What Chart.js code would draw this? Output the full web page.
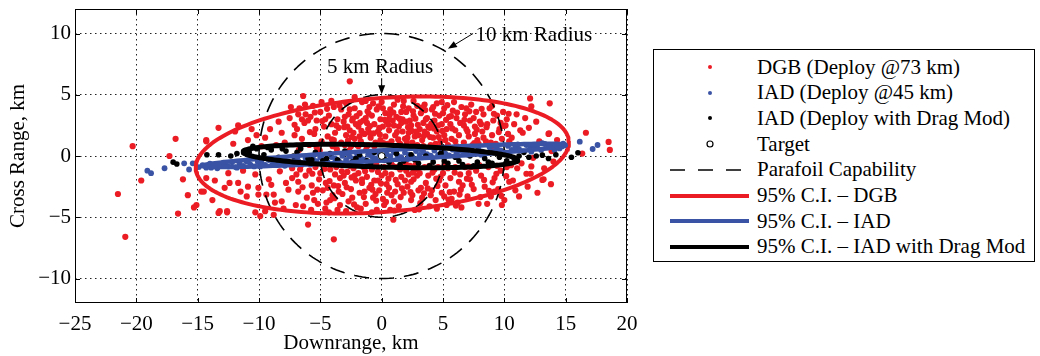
<!DOCTYPE html>
<html>
<head>
<meta charset="utf-8">
<script src="https://cdn.jsdelivr.net/npm/chart.js@4/dist/chart.umd.min.js"></script>
<style>
  body { margin: 0; background: #fff; width: 1040px; height: 356px; overflow: hidden;
         font-family: 'Liberation Serif', 'Times New Roman', serif; }
  #wrap { position: absolute; left: 0; top: 0; width: 640px; height: 356px; }
  #legend { position: absolute; left: 653px; top: 49px; width: 382px; height: 213px;
            border: 1px solid #000; box-sizing: border-box; background: #fff; }
  .row { position: absolute; left: 0; height: 26px; display: flex; align-items: center;
         font-size: 21px; color: #000; white-space: nowrap; }
  .row svg { width: 96px; height: 26px; margin-right: 7px; flex: none; }
</style>
</head>
<body>
<div id="wrap"><canvas id="chart" width="640" height="356"></canvas></div>
<div id="legend"></div>
<script>
// --- datos (km) ---
const dgbPoints = [
  [-21.5,-3.1],[-20.9,-6.6],[-20.3,0.8],[-19.6,-2.0],[-17.3,0.0],[-16.8,1.4],[-16.6,-4.7],[-16.2,-1.9],
  [-15.8,-3.2],[-15.3,-4.2],[-14.7,-2.9],[-14.3,1.3],[-13.3,2.3],[-13.2,-4.5],[-12.6,-4.6],[-11.7,2.5],
  [-10.3,-4.6],[-6.4,4.9],[-3.9,-6.8],[-6.0,-5.6],[-2.6,6.1],[-2.2,4.8],[0.95,-5.2],
  [-11.95,2.0],[-14.3,1.2],[-10.9,1.3],[-10.2,1.7],[-9.5,1.5],[-9.8,0.8],[-8.4,2.8],[-8.15,1.9],
  [-7.9,1.1],[-7.1,1.7],[-7.1,2.55],[-6.5,3.0],[-6.8,3.4],[-14.3,-1.8],[-14.5,-2.9],[-12.5,-1.4],
  [-12.4,-2.2],[-12.8,-2.6],[-11.7,-2.2],[-11.5,-2.9],[-10.9,-2.5],[-11.0,-3.3],[-10.05,-2.6],[-10.05,-3.15],
  [-9.4,-3.15],[-8.8,-3.15],[-8.7,-3.8],[-9.5,-4.5],[-8.15,-3.7],[-7.6,-2.75],[-7.3,-1.8],[-6.8,-2.1],
  [-6.65,-1.1],[-7.3,-1.0],[-8.3,-1.25],[-9.0,-2.35],[-10.3,-1.5],[-13.3,-4.65],[-12.6,-4.5],[-15.1,-4.0],
  [-9.9,-4.9],[-8.8,-4.8],
  [-6.9,2.2],[-6.7,3.9],[-6.5,1.4],[-6.3,2.7],[-6.2,-1.6],[-6.1,-3.4],[-5.9,0.9],[-5.8,3.2],
  [-5.7,-2.4],[-5.6,4.1],[-5.5,1.8],[-5.4,-0.9],[-5.3,2.9],[-5.2,-3.9],[-5.1,-1.9],[-5.0,3.6],
  [-4.9,1.2],[-4.8,-2.8],[-4.7,2.4],[-4.6,-4.3],[-6.8,-2.9],[-6.6,-0.8],[-6.4,-4.1],[-6.0,2.9],
  [-5.9,-1.2],[-5.6,-3.0],[-5.3,0.7],[-5.0,-1.4],[-4.9,4.4],[-4.6,3.0],[-6.2,3.4],[-5.4,2.2],
  [-6.95,-1.5],[-5.75,-4.4],[-4.55,-2.2],
  [-4.4,1.6],[-4.3,3.3],[-4.2,-1.1],[-4.2,-3.6],[-4.1,2.6],[-4.0,0.8],[-3.9,4.0],[-3.9,-2.4],
  [-3.8,1.9],[-3.7,-0.9],[-3.6,3.0],[-3.6,-4.4],[-3.5,2.3],[-3.4,-1.8],[-3.3,1.1],[-3.3,3.8],
  [-3.2,-3.1],[-3.1,2.8],[-3.0,0.9],[-3.0,-2.2],[-2.9,1.7],[-2.9,4.3],[-2.8,-1.3],[-2.7,3.4],
  [-2.7,-3.7],[-2.6,2.1],[-2.5,0.8],[-2.5,-2.7],[-2.4,2.9],[-2.3,-1.0],[-2.2,3.9],[-2.2,1.4],
  [-2.1,-2.0],[-2.0,-4.2],[-4.4,-2.6],[-4.0,-3.2],[-3.8,-1.5],[-3.4,-4.0],[-3.2,-0.7],[-3.0,3.2],
  [-2.8,2.4],[-2.6,-0.8],[-2.4,-3.4],[-2.3,1.9],[-2.1,2.6],[-4.1,4.5],[-3.7,2.5],[-3.5,-2.9],
  [-3.1,-1.6],[-2.6,3.8],[-2.2,-1.6],[-4.3,-4.6],[-2.9,-4.5],[-2.0,0.9],[-3.9,1.3],
  [-1.9,2.4],[-1.9,-1.4],[-1.8,3.5],[-1.8,-3.0],[-1.7,1.2],[-1.6,4.4],[-1.6,-2.2],[-1.5,2.9],
  [-1.5,-0.9],[-1.4,1.8],[-1.3,-3.9],[-1.3,3.1],[-1.2,-1.7],[-1.1,2.2],[-1.1,0.9],[-1.0,-2.6],
  [-1.0,4.0],[-0.9,1.5],[-0.8,-1.1],[-0.8,3.3],[-0.7,-3.4],[-0.6,2.6],[-0.6,-2.0],[-0.5,1.1],
  [-0.4,3.8],[-0.4,-4.4],[-0.3,2.0],[-0.3,-1.3],[-0.2,-2.8],[-0.1,3.0],[-0.1,1.3],[0.0,-1.6],
  [0.0,4.4],[0.1,2.4],[0.1,-3.5],[0.2,-0.9],[0.3,3.5],[0.3,1.6],[0.4,-2.3],[0.4,2.8],
  [-1.7,-4.3],[-1.4,-2.9],[-1.2,2.7],[-0.9,-0.8],[-0.7,4.3],[-0.5,-3.1],[-0.2,2.3],[0.2,-4.0],
  [-1.9,0.8],[-1.0,1.9],[-0.3,-2.0],[0.5,1.0],[-1.6,-1.9],[-0.8,-4.6],[0.3,-1.4],[-1.3,4.5],
  [-0.6,0.8],[0.1,3.9],[-1.8,1.6],[0.45,-3.0],
  [0.6,2.1],[0.6,-2.6],[0.7,3.8],[0.8,1.2],[0.8,-1.5],[0.9,2.9],[1.0,-3.7],[1.0,4.2],
  [1.1,1.7],[1.2,-0.9],[1.2,3.2],[1.3,-2.3],[1.4,2.4],[1.4,-4.1],[1.5,1.0],[1.6,3.6],
  [1.6,-1.7],[1.7,2.0],[1.8,-3.0],[1.8,4.5],[1.9,1.4],[2.0,-1.2],[2.0,2.8],[2.1,-2.5],
  [2.2,3.9],[2.2,1.9],[2.3,-0.8],[2.4,-3.6],[2.4,2.5],[2.5,1.1],[2.6,3.3],[2.6,-1.9],
  [2.7,-4.4],[2.8,2.0],[2.8,-1.1],[2.9,4.1],[2.9,0.9],[3.0,-2.8],[0.7,-4.4],[0.9,-0.8],
  [1.1,-2.9],[1.3,4.6],[1.5,-1.1],[1.7,3.0],[1.9,-2.0],[2.1,1.5],[2.3,2.9],[2.5,-3.2],
  [2.7,1.6],[0.6,3.0],[1.0,2.5],[1.4,0.9],[1.8,-0.9],[2.2,-1.5],[2.6,4.5],[2.9,-1.6],
  [0.8,-3.2],[1.6,2.7],[2.0,3.6],[2.4,-2.1],
  [3.1,2.2],[3.1,-1.4],[3.2,3.5],[3.3,-3.4],[3.3,1.3],[3.4,2.7],[3.5,-0.9],[3.5,4.2],
  [3.6,-2.2],[3.7,1.8],[3.7,3.1],[3.8,-1.6],[3.9,-4.1],[3.9,2.3],[4.0,0.9],[4.1,3.8],
  [4.1,-2.8],[4.2,1.5],[4.3,-1.1],[4.3,2.9],[4.4,-3.6],[4.5,2.0],[4.5,4.3],[4.6,-0.9],
  [4.7,3.3],[4.7,-2.0],[4.8,1.2],[4.9,2.6],[4.9,-3.0],[5.0,-1.4],[5.1,3.9],[5.1,1.7],
  [5.2,-2.4],[5.3,2.2],[5.3,-4.0],[5.4,0.9],[5.5,3.2],[3.2,-2.6],[3.4,0.8],[3.6,3.0],
  [3.8,2.4],[4.0,-3.2],[4.2,4.0],[4.4,1.0],[4.6,2.5],[4.8,-1.7],[5.0,3.5],[5.2,1.3],
  [5.4,-1.0],[3.0,1.7],[3.9,-0.8],[4.5,-4.3],[5.1,-3.3],[3.5,2.0],[4.9,4.4],
  [5.6,2.6],[5.6,-1.8],[5.7,1.4],[5.8,3.7],[5.9,-2.9],[6.0,2.1],[6.0,-0.9],[6.1,3.1],
  [6.2,-3.8],[6.3,1.7],[6.4,2.7],[6.4,-1.5],[6.5,4.0],[6.6,-2.4],[6.7,1.1],[6.8,3.4],
  [6.8,-0.9],[6.9,2.2],[7.0,-3.3],[7.1,1.6],[7.2,2.9],[7.2,-1.9],[7.3,4.2],[7.4,0.9],
  [7.5,-2.7],[7.6,2.4],[7.7,3.6],[7.7,-1.2],[7.8,1.3],[7.9,-3.9],[8.0,2.8],[5.7,-3.5],
  [6.1,0.8],[6.5,-4.2],[6.9,3.9],[7.3,-0.9],[7.6,1.8],[5.9,4.4],[6.3,-2.1],[6.7,2.5],
  [7.1,-1.4],[7.5,3.1],[7.9,1.0],[6.0,1.2],[7.0,2.0],
  [8.1,-1.6],[8.2,2.0],[8.3,3.4],[8.4,-2.5],[8.5,1.2],[8.6,2.6],[8.7,-0.9],[8.8,3.9],
  [8.9,-3.3],[9.0,1.7],[9.1,2.9],[9.2,-1.8],[9.3,1.0],[9.4,3.3],[9.5,-2.7],[9.6,2.2],
  [9.7,-1.2],[9.8,1.4],[9.9,3.6],[10.0,-3.6],[10.1,2.5],[10.2,-0.9],[10.3,1.8],[10.4,-2.1],
  [8.3,1.5],[8.6,-3.9],[9.0,4.1],[9.4,-0.8],[9.8,-4.0],[10.2,3.0],[8.1,2.6],[8.9,1.1],
  [9.7,2.7],[10.4,1.2],[9.2,-2.9],
  [12.1,4.7],[13.7,4.3],[12.2,4.05],[11.7,3.1],[10.8,2.6],[12.0,2.3],[11.3,2.1],[11.5,1.9],
  [13.6,1.8],[12.85,1.2],[13.85,0.4],[11.4,-0.6],[12.35,-0.15],[14.0,-0.45],[11.05,-1.0],[12.2,-0.85],
  [12.15,-1.45],[11.8,-1.45],[10.7,-2.0],[13.2,-1.9],[13.8,-2.3],[13.1,-1.95],[13.25,-1.0],[13.65,1.85],
  [11.0,3.4],[10.9,-2.8],[11.9,-2.5],[14.3,1.3],[12.6,2.8],[10.6,1.5],[11.2,-3.3],[12.7,-3.0],
  [16.65,1.9],[18.5,1.15],[18.6,0.5],[16.35,0.2],
  [-6.75,0.5],[-6.45,-2.55],[-6.25,4.2],[-6.05,-0.45],[-5.85,1.95],[-5.65,-1.45],[-5.45,3.55],[-5.25,-2.75],
  [-5.05,0.45],[-4.85,2.85],[-4.65,-1.05],[-4.45,3.85],[-4.25,-2.05],[-4.05,1.35],[-3.85,-3.45],[-3.65,0.55],
  [-3.45,4.15],[-3.25,-1.25],[-3.05,2.35],[-2.85,-2.55],[-2.65,0.45],[-2.45,1.55],[-2.25,-3.95],[-2.05,3.25],
  [-1.85,-0.65],[-1.65,2.05],[-1.45,-3.35],[-1.25,0.55],[-1.05,3.45],[-0.85,-2.35],[-0.65,1.85],[-0.45,-0.65],
  [-0.25,4.05],[-0.05,-2.25],[0.15,1.05],[0.35,-3.75],[0.55,2.55],[0.75,-0.55],[0.95,3.55],[1.15,-1.95],
  [1.35,1.35],[1.55,-3.35],[1.75,4.05],[1.95,-0.55],[2.15,2.35],[2.35,-2.95],[2.55,3.65],[2.75,-0.75],
  [2.95,2.55],[3.15,-3.85],[3.35,0.55],[3.55,3.75],[3.75,-2.65],[3.95,1.55],[4.15,-1.35],[4.35,3.45],
  [4.55,-2.45],[4.75,0.75],[4.95,2.05],[5.15,-0.65],[5.35,4.15],[5.55,-2.95],[5.75,2.25],[5.95,-1.35],
  [6.15,3.55],[6.35,-3.15],[6.55,0.65],[6.75,2.95],[6.95,-1.85],[7.15,3.65],[7.35,-2.35],[7.55,1.05],
  [7.75,2.15],[7.95,-0.75],[8.15,3.85],[8.35,-1.95],[8.55,2.35],[8.75,-2.85],[8.95,0.75],[9.15,3.45],
  [9.35,-1.45],[9.55,1.95],[9.75,-3.25],[9.95,2.45],[10.15,-1.65],[10.35,3.45],[10.55,-0.75],[-7.5,3.1],
  [-7.8,-2.2],[-8.6,0.9],[-9.2,-1.9],[-7.0,-4.0],[-8.0,-4.3],[-7.4,4.0],[-9.1,2.2],[-10.6,2.2],
  [-11.3,-1.2],[-12.1,1.0],[-13.6,-2.0],[-13.8,-3.6],
  [-2.75,1.25],[-1.75,2.75],[-0.95,2.45],[-0.15,1.75],[0.65,3.35],[1.25,1.95],[2.05,1.15],[2.75,3.05],
  [3.45,1.65],[4.05,2.65],[4.65,1.55],[5.25,2.95],[-2.35,3.05],[-1.15,3.65],[0.25,2.95],[1.45,3.05],
  [2.45,2.05],[3.25,3.95],[4.25,2.25],[5.65,3.25],
  [-2.45,-1.75],[-1.35,-1.25],[-0.45,-3.65],[0.55,-1.85],[1.65,-2.65],[2.55,-1.35],[3.45,-3.05],[4.45,-1.85],
  [5.45,-3.55],[6.45,-2.75],[-3.55,-2.45],[-0.75,-2.75],[1.05,-4.45],[3.05,-4.35],[6.05,-4.05],[7.05,-0.85],
  [8.05,-3.35],[9.05,-2.15],[-5.5,-3.6],[-4.5,-3.8]
];

const iadPoints = [
  [-19.1,-1.2],[-18.8,-1.4],[-17.7,-1.0],[-16.1,-0.6],[-15.7,-1.1],[-15.4,-0.6],[-14.9,-0.9],
  [-14.6,-0.75],[-14.3,-0.95],[-14.0,-0.62],[-13.7,-0.82],[-13.4,-1.00],[-13.1,-0.66],[-12.8,-0.72],[-12.5,-0.86],
  [-12.2,-0.50],[-11.9,-0.90],[-11.6,-0.58],[-11.3,-0.80],[-11.0,-0.44],[-10.7,-0.70],[-10.4,-0.85],[-10.1,-0.48],
  [-9.8,-0.55],[-9.5,-0.72],[-9.2,-0.33],[-8.9,-0.68],[-8.6,-0.42],[-8.3,-0.60],[-8.0,-0.30],[-7.7,-0.52],
  [-7.4,-0.66],[-7.1,-0.25],[-6.8,-0.40],[-6.5,-0.58],[-6.2,-0.18],[-5.9,-0.50],[-5.6,-0.22],[-5.3,-0.42],
  [-5.0,-0.10],[-4.7,-0.36],[-4.4,-0.50],[-4.1,-0.08],[-3.8,-0.20],[-3.5,-0.40],[-3.2,0.02],[-2.9,-0.32],
  [-2.6,-0.05],[-2.3,-0.22],[-2.0,0.12],[-1.7,-0.14],[-1.4,-0.30],[-1.1,0.10],[-0.8,-0.02],[-0.5,-0.20],
  [-0.2,0.18],[0.1,-0.12],[0.4,0.16],[0.7,-0.02],[1.0,0.30],[1.3,0.02],[1.6,-0.10],[1.9,0.28],
  [2.2,0.12],[2.5,-0.05],[2.8,0.40],[3.1,0.08],[3.4,0.30],[3.7,0.15],[4.0,0.02],[4.3,0.45],
  [4.6,0.10],[4.9,0.38],[5.2,0.20],[5.5,0.05],[5.8,0.52],[6.1,0.22],[6.4,0.45],[6.7,0.28],
  [7.0,0.12],[7.3,0.62],[7.6,0.30],[7.9,0.55],[8.2,0.36],[8.5,0.22],[8.8,0.72],[9.1,0.40],
  [9.4,0.62],[9.7,0.45],[10.0,0.30],[10.3,0.82],[10.6,0.50],[10.9,0.72],[11.2,0.55],[11.5,0.40],
  [11.8,0.90],[12.1,0.60],[12.4,0.82],[12.7,0.65],[13.0,0.50],[13.3,0.98],[13.6,0.70],[13.9,0.90],
  [14.2,0.75],[14.5,0.62],[14.8,1.00],[15.0,0.85],
  [-13.9,-0.95],[-12.9,-0.55],[-11.8,-0.95],[-10.9,-0.35],[-9.9,-0.85],[-8.8,-0.25],[-7.9,-0.80],[-6.9,-0.15],
  [-5.8,-0.70],[-4.9,0.05],[-3.9,-0.60],[-2.8,0.20],[-1.9,-0.45],[-0.9,0.30],[0.2,-0.35],[1.2,0.45],
  [2.1,-0.25],[3.2,0.55],[4.1,-0.15],[5.1,0.65],[6.2,0.00],[7.1,0.75],[8.1,0.10],[9.2,0.85],
  [10.1,0.20],[11.1,0.95],[12.2,0.35],[13.1,1.05],[14.1,0.50],[14.7,0.78],
  [16.15,1.17],[17.2,0.57],[17.6,0.9]
];

const dragModPoints = [
  [-17.0,-0.5],[-16.7,-0.65],[-14.25,0.1],[-13.3,0.1],[-12.3,0.0],[-11.8,0.2],
  [12.6,0.0],[13.1,0.07],[15.47,-0.1],[16.0,0.27],[14.2,0.1],[13.6,-0.2],
  [-10.8,0.3],[-10.2,0.6],[-9.6,0.1],[-9.0,0.5],[-8.4,-0.1],[-7.8,0.4],[-7.2,0.0],[-6.6,0.6],
  [-6.0,-0.2],[-5.4,0.3],[-4.8,-0.4],[-4.2,0.2],[-3.6,-0.3],[-3.0,0.4],[-2.4,-0.5],[-1.8,0.1],
  [-1.2,-0.4],[-0.6,0.3],[0.6,-0.5],[1.2,0.2],[1.8,-0.4],[2.4,0.1],[3.0,-0.6],[3.6,0.0],
  [4.2,-0.5],[4.8,0.2],[5.4,-0.6],[6.0,-0.1],[6.6,-0.7],[7.2,0.0],[7.8,-0.5],[8.4,-0.2],
  [9.0,-0.6],[9.6,-0.1],[10.2,-0.4],[10.8,-0.2],[-10.5,0.8],[-9.3,0.7],[-8.1,0.6],[-6.9,0.3],
  [-5.7,-0.3],[-4.5,-0.2],[-3.3,-0.6],[-2.1,-0.2],[-0.9,-0.6],[0.3,-0.3],[1.5,-0.7],[2.7,-0.3],
  [3.9,-0.8],[5.1,-0.4],[6.3,-0.4],[7.5,-0.8],[8.7,-0.5],[9.9,0.2],[11.2,0.0],[11.6,0.3],[12.0,-0.1]
];

const targetPoint = [[0, 0]];

// radios de capacidad del parafoil (km)
const parafoilRadii = [5, 10];

// elipses 95% C.I.: [cx, cy, semieje mayor, semieje menor, giro en grados]
const ciDGB = [0.05, 0.08, 15.25, 4.65, 4.3];
const ciIAD = [0.2, 0.05, 14.85, 0.42, 3.3];
const ciDragMod = [-0.1, 0.0, 11.2, 0.9, -1.7];

const xTicks = [-25, -20, -15, -10, -5, 0, 5, 10, 15, 20];
const yTicks = [-10, -5, 0, 5, 10];

const legendLabels = [
  'DGB (Deploy @73 km)',
  'IAD (Deploy @45 km)',
  'IAD (Deploy with Drag Mod)',
  'Target',
  'Parafoil Capability',
  '95% C.I. \u2013 DGB',
  '95% C.I. \u2013 IAD',
  '95% C.I. \u2013 IAD with Drag Mod'
];

// colores
const ROJO = '#ec1c24';
const AZUL = '#3a53a4';
const NEGRO = '#000000';
const FUENTE = "'Liberation Serif', 'Times New Roman', serif";

// contorno de una elipse a partir de sus parametros
function contornoElipse(p) {
  const [cx, cy, a, b, deg] = p;
  const t = deg * Math.PI / 180;
  const pts = [];
  for (let i = 0; i <= 200; i++) {
    const s = i / 200 * 2 * Math.PI;
    const ex = a * Math.cos(s), ey = b * Math.sin(s);
    pts.push({ x: cx + ex * Math.cos(t) - ey * Math.sin(t), y: cy + ex * Math.sin(t) + ey * Math.cos(t) });
  }
  return pts;
}

function menos(v) {
  return v < 0 ? '\u2212' + Math.abs(v) : String(v);
}

// notas "Radius" con flecha (en km)
const notas = [
  { text: '10 km Radius', tx: 7.65, ty: 9.85, align: 'left', from: [7.45, 10.0], to: [5.4, 8.75] },
  { text: '5 km Radius', tx: -0.12, ty: 7.2, align: 'center', from: [0, 6.35], to: [0, 5.05] }
];

const pluginNotas = {
  id: 'notas',
  afterDatasetsDraw(chart) {
    const { ctx, chartArea: a } = chart;
    const sx = chart.scales.x, sy = chart.scales.y;
    ctx.save();
    ctx.fillStyle = '#000';
    ctx.strokeStyle = '#000';
    ctx.lineWidth = 1;
    ctx.font = '21px ' + FUENTE;
    ctx.textBaseline = 'middle';
    notas.forEach(n => {
      ctx.textAlign = n.align;
      ctx.fillText(n.text, sx.getPixelForValue(n.tx), sy.getPixelForValue(n.ty));
      const x1 = sx.getPixelForValue(n.from[0]), y1 = sy.getPixelForValue(n.from[1]);
      const x2 = sx.getPixelForValue(n.to[0]), y2 = sy.getPixelForValue(n.to[1]);
      const ang = Math.atan2(y2 - y1, x2 - x1);
      ctx.beginPath();
      ctx.moveTo(x1, y1);
      ctx.lineTo(x2 - 6 * Math.cos(ang), y2 - 6 * Math.sin(ang));
      ctx.stroke();
      ctx.beginPath();
      ctx.moveTo(x2, y2);
      ctx.lineTo(x2 - 9 * Math.cos(ang) + 3.5 * Math.sin(ang), y2 - 9 * Math.sin(ang) - 3.5 * Math.cos(ang));
      ctx.lineTo(x2 - 9 * Math.cos(ang) - 3.5 * Math.sin(ang), y2 - 9 * Math.sin(ang) + 3.5 * Math.cos(ang));
      ctx.closePath();
      ctx.fill();
    });
    // marco de los ejes y marcas interiores
    ctx.strokeRect(Math.round(a.left) + 0.5, Math.round(a.top) + 0.5,
                   Math.round(a.right - a.left) - 1, Math.round(a.bottom - a.top) - 1);
    ctx.beginPath();
    xTicks.forEach(v => {
      const px = Math.round(sx.getPixelForValue(v)) + 0.5;
      ctx.moveTo(px, a.bottom); ctx.lineTo(px, a.bottom - 5);
      ctx.moveTo(px, a.top); ctx.lineTo(px, a.top + 5);
    });
    yTicks.forEach(v => {
      const py = Math.round(sy.getPixelForValue(v)) + 0.5;
      ctx.moveTo(a.left, py); ctx.lineTo(a.left + 5, py);
      ctx.moveTo(a.right, py); ctx.lineTo(a.right - 5, py);
    });
    ctx.stroke();
    ctx.restore();
  }
};

const puntos = (label, data, color, order, r) => ({
  label, data, order,
  showLine: false,
  pointRadius: r, pointBorderWidth: 0,
  pointBackgroundColor: color, pointBorderColor: color, backgroundColor: color
});

const curva = (label, data, color, width, order, dash) => ({
  label, data, order,
  showLine: true, fill: false, tension: 0,
  borderColor: color, borderWidth: width, borderDash: dash || [],
  borderJoinStyle: 'round', borderCapStyle: 'butt',
  pointRadius: 0, pointHoverRadius: 0
});

const datasets = [
  puntos('DGB (Deploy @73 km)', dgbPoints, ROJO, 8, 3.1),
  puntos('IAD (Deploy @45 km)', iadPoints, AZUL, 7, 2.9),
  puntos('IAD (Deploy with Drag Mod)', dragModPoints, NEGRO, 6, 2.8)
];
parafoilRadii.forEach(r => {
  datasets.push(curva('Parafoil Capability', contornoElipse([0, 0, r, r, 0]), NEGRO, 1.6, 5, [15, 10]));
});
datasets.push(curva('95% C.I. \u2013 DGB', contornoElipse(ciDGB), ROJO, 4, 4));
datasets.push(curva('95% C.I. \u2013 IAD', contornoElipse(ciIAD), AZUL, 4.5, 3));
datasets.push(curva('95% C.I. \u2013 IAD with Drag Mod', contornoElipse(ciDragMod), NEGRO, 5, 2));
datasets.push({
  label: 'Target', data: targetPoint, order: 0, showLine: false,
  pointRadius: 3.4, pointBorderWidth: 1, pointBackgroundColor: '#fff', pointBorderColor: '#000'
});

const fuenteEje = { family: FUENTE, size: 21, lineHeight: 1.2 };

// quitar el relleno automatico de las etiquetas para fijar el area del grafico
function sinRelleno(s) {
  s.paddingLeft = 0; s.paddingRight = 0; s.paddingTop = 0; s.paddingBottom = 0;
}

const chart = new Chart(document.getElementById('chart').getContext('2d'), {
  type: 'scatter',
  data: { datasets },
  options: {
    responsive: false,
    animation: false,
    devicePixelRatio: 1,
    layout: { padding: { left: 0, top: 9, right: 13, bottom: 0 }, autoPadding: false },
    plugins: { legend: { display: false }, tooltip: { enabled: false } },
    scales: {
      x: {
        type: 'linear', min: xTicks[0], max: xTicks[xTicks.length - 1],
        afterBuildTicks: s => { s.ticks = xTicks.map(v => ({ value: v })); },
        afterFit: s => { s.height = 53; sinRelleno(s); },
        ticks: { color: '#000', font: fuenteEje, padding: 9, maxRotation: 0, autoSkip: false, callback: v => menos(v) },
        grid: { color: '#222', lineWidth: 1, drawTicks: false },
        border: { display: false, dash: [1.5, 3.5] },
        title: { display: true, text: 'Downrange, km', color: '#000', font: fuenteEje, padding: { top: 0, bottom: 0 } }
      },
      y: {
        type: 'linear', min: -12, max: 12,
        afterBuildTicks: s => { s.ticks = yTicks.map(v => ({ value: v })); },
        afterFit: s => { s.width = 75; sinRelleno(s); },
        ticks: { color: '#000', font: fuenteEje, padding: 4, autoSkip: false, callback: v => menos(v) },
        grid: { color: '#222', lineWidth: 1, drawTicks: false },
        border: { display: false, dash: [1.5, 3.5] },
        title: { display: true, text: 'Cross Range, km', color: '#000', font: fuenteEje, padding: { top: 6, bottom: 0 } }
      }
    }
  },
  plugins: [pluginNotas]
});

// leyenda en HTML
const muestras = [
  '<circle cx="56" cy="13" r="2" fill="' + ROJO + '"/>',
  '<circle cx="56" cy="13" r="2" fill="' + AZUL + '"/>',
  '<circle cx="56" cy="13" r="2" fill="#000"/>',
  '<circle cx="56" cy="13" r="3" fill="#fff" stroke="#000" stroke-width="1.2"/>',
  '<line x1="16" y1="13" x2="95" y2="13" stroke="#000" stroke-width="1.5" stroke-dasharray="15 13"/>',
  '<line x1="16" y1="13" x2="95" y2="13" stroke="' + ROJO + '" stroke-width="4"/>',
  '<line x1="16" y1="13" x2="95" y2="13" stroke="' + AZUL + '" stroke-width="4"/>',
  '<line x1="16" y1="13" x2="95" y2="13" stroke="#000" stroke-width="4"/>'
];
const leyenda = document.getElementById('legend');
legendLabels.forEach((txt, i) => {
  const fila = document.createElement('div');
  fila.className = 'row';
  fila.style.top = (4 + i * 25.7) + 'px';
  fila.innerHTML = '<svg viewBox="0 0 96 26">' + muestras[i] + '</svg>';
  const span = document.createElement('span');
  span.textContent = txt;
  fila.appendChild(span);
  leyenda.appendChild(fila);
});
</script>
</body>
</html>
